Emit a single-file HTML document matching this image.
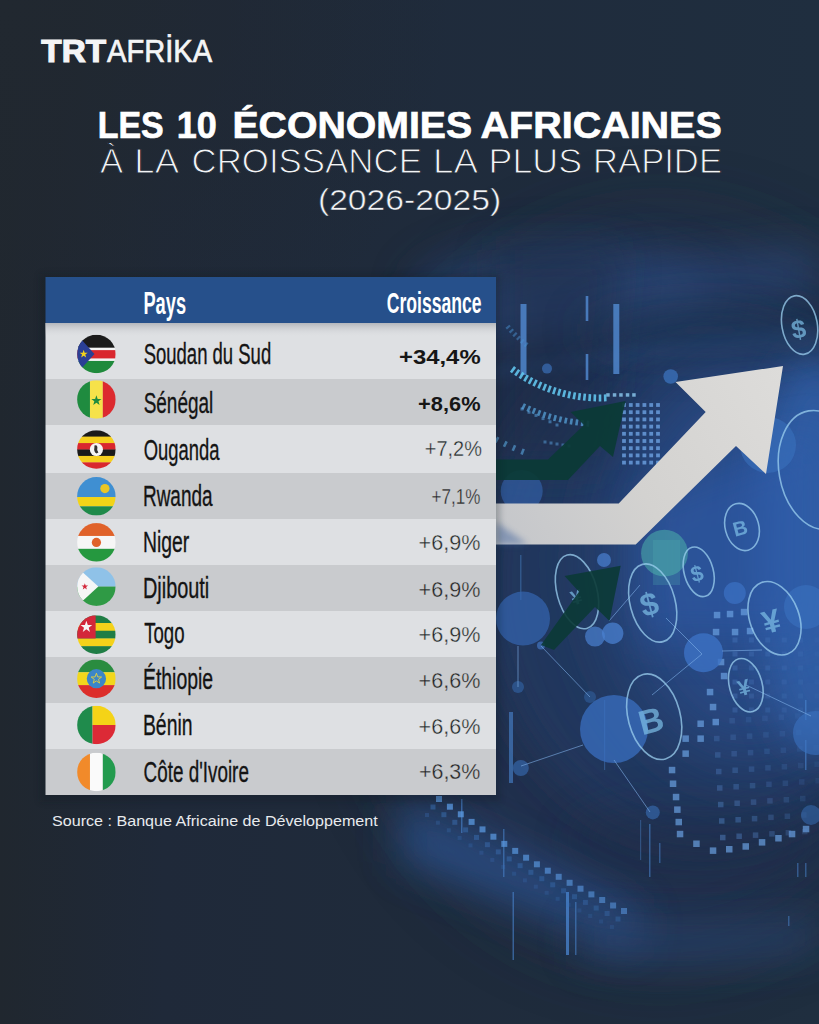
<!DOCTYPE html>
<html><head><meta charset="utf-8"><style>
html,body{margin:0;padding:0;}
body{width:819px;height:1024px;overflow:hidden;position:relative;background:#212830;}
svg{position:absolute;left:0;top:0;display:block;}
text{font-family:"Liberation Sans",sans-serif;}
</style></head><body>
<svg width="819" height="1024" viewBox="0 0 819 1024">
<defs>
<linearGradient id="hshadow" x1="0" y1="0" x2="0" y2="1"><stop offset="0" stop-color="#a9acb2" stop-opacity="0.8"/><stop offset="1" stop-color="#dfe0e3" stop-opacity="0"/></linearGradient>
</defs>
<defs>
<filter id="blur6" filterUnits="userSpaceOnUse" x="-100" y="-100" width="1100" height="1300"><feGaussianBlur stdDeviation="6"/></filter>
<filter id="blur3" filterUnits="userSpaceOnUse" x="-100" y="-100" width="1100" height="1300"><feGaussianBlur stdDeviation="3"/></filter>
<filter id="blur1" filterUnits="userSpaceOnUse" x="-100" y="-100" width="1100" height="1300"><feGaussianBlur stdDeviation="0.7"/></filter>
<filter id="blur20" filterUnits="userSpaceOnUse" x="-100" y="-100" width="1100" height="1300"><feGaussianBlur stdDeviation="20"/></filter>
<filter id="blur40" filterUnits="userSpaceOnUse" x="-100" y="-100" width="1100" height="1300"><feGaussianBlur stdDeviation="40"/></filter>
<linearGradient id="bgbase" x1="0" y1="0" x2="1" y2="0">
<stop offset="0" stop-color="#20272f"/><stop offset="0.2" stop-color="#1f2939"/><stop offset="1" stop-color="#1f2e3f"/></linearGradient>
<radialGradient id="bgtop" gradientUnits="userSpaceOnUse" cx="0" cy="0" r="450">
<stop offset="0" stop-color="#212830" stop-opacity="1"/><stop offset="1" stop-color="#212830" stop-opacity="0"/></radialGradient>
</defs>
<rect width="819" height="1024" fill="url(#bgbase)"/>
<rect width="819" height="1024" fill="url(#bgtop)"/>
<!-- haze -->
<ellipse cx="660" cy="590" rx="300" ry="360" fill="#213352" opacity="0.75" filter="url(#blur40)"/>
<!-- sphere -->
<ellipse cx="705" cy="580" rx="225" ry="260" fill="#22395e" opacity="0.9" filter="url(#blur20)"/>
<ellipse cx="750" cy="560" rx="140" ry="200" fill="#2a4e8c" opacity="0.85" filter="url(#blur40)"/>
<ellipse cx="815" cy="550" rx="60" ry="200" fill="#3262ac" opacity="0.8" filter="url(#blur20)"/>
<ellipse cx="560" cy="290" rx="150" ry="50" fill="#2a4676" opacity="0.5" filter="url(#blur20)"/>
<!-- top streaks -->
<path d="M400,315 Q600,268 819,248 L819,292 Q600,312 400,348 Z" fill="#2d4c80" opacity="0.6" filter="url(#blur20)"/>
<path d="M470,370 Q650,340 819,325 L819,345 Q650,355 470,385 Z" fill="#2d5288" opacity="0.3" filter="url(#blur6)"/>
<path d="M496,250 L620,250 L600,470 L496,470 Z" fill="#1c2a45" opacity="0.5" filter="url(#blur20)"/>
<path d="M640,500 L819,430 L819,640 L640,640 Z" fill="#2f5caa" opacity="0.55" filter="url(#blur20)"/>
<ellipse cx="710" cy="330" rx="130" ry="28" fill="#1f3150" opacity="0.5" filter="url(#blur20)"/>
<!-- dark lower gap -->
<ellipse cx="690" cy="840" rx="120" ry="35" fill="#1f2c44" opacity="0.35" filter="url(#blur20)"/>
<!-- bottom floor glow -->
<path d="M400,800 Q520,850 640,912 L640,950 Q520,905 400,860 Z" fill="#2c5088" opacity="0.85" filter="url(#blur20)"/>
<path d="M580,920 Q700,935 819,920 L819,950 Q700,965 580,955 Z" fill="#2a4676" opacity="0.7" filter="url(#blur20)"/>
<g fill="#4f86cc" opacity="0.85"><rect x="520.5" y="304" width="6" height="71"/><rect x="585.7" y="296" width="2.6" height="25"/><rect x="585.7" y="354" width="2.6" height="26"/><rect x="613.3" y="304" width="6" height="70"/></g>
<rect x="461" y="799" width="1.5" height="34" fill="#4a86d0" opacity="0.6"/>
<rect x="503" y="829" width="1.5" height="48" fill="#4a86d0" opacity="0.55"/>
<rect x="512.5" y="892" width="1.5" height="68" fill="#4a86d0" opacity="0.6"/>
<rect x="566" y="892" width="3" height="63" fill="#4a86d0" opacity="0.75"/>
<rect x="575" y="902" width="1.5" height="53" fill="#4a86d0" opacity="0.55"/>
<rect x="649" y="824" width="1.5" height="53" fill="#4a86d0" opacity="0.55"/>
<rect x="659" y="843" width="1.5" height="20" fill="#4a86d0" opacity="0.5"/>
<rect x="788" y="916" width="1.5" height="10" fill="#4a86d0" opacity="0.5"/>
<rect x="797" y="863" width="1.5" height="14" fill="#4a86d0" opacity="0.5"/>
<rect x="805" y="863" width="1.5" height="14" fill="#4a86d0" opacity="0.5"/>
<rect x="805" y="740" width="1.5" height="30" fill="#4a86d0" opacity="0.6"/>
<rect x="805" y="700" width="1.5" height="20" fill="#4a86d0" opacity="0.6"/>
<rect x="604" y="700" width="1.2" height="70" fill="#4a86d0" opacity="0.4"/>
<rect x="520" y="555" width="1.5" height="45" fill="#4a86d0" opacity="0.4"/>
<rect x="509" y="712" width="4" height="71" fill="#4a86d0" opacity="0.6"/>
<rect x="640" y="820" width="1.2" height="40" fill="#4a86d0" opacity="0.4"/>
<rect x="713.8" y="611.8" width="6.5" height="6.5" fill="#6a9fe0" opacity="0.70"/>
<rect x="712.8" y="628.8" width="6.5" height="6.5" fill="#6a9fe0" opacity="0.70"/>
<rect x="717.8" y="658.8" width="6.5" height="6.5" fill="#6a9fe0" opacity="0.70"/>
<rect x="720.8" y="672.8" width="6.5" height="6.5" fill="#6a9fe0" opacity="0.70"/>
<rect x="706.8" y="688.8" width="6.5" height="6.5" fill="#6a9fe0" opacity="0.70"/>
<rect x="709.8" y="703.8" width="6.5" height="6.5" fill="#6a9fe0" opacity="0.70"/>
<rect x="697.4" y="720.5" width="6.5" height="6.5" fill="#6a9fe0" opacity="0.70"/>
<rect x="712.5" y="718.8" width="6.5" height="6.5" fill="#6a9fe0" opacity="0.70"/>
<rect x="682.4" y="735.4" width="6.5" height="6.5" fill="#6a9fe0" opacity="0.70"/>
<rect x="697.4" y="735.4" width="6.5" height="6.5" fill="#6a9fe0" opacity="0.70"/>
<rect x="682.4" y="750.4" width="6.5" height="6.5" fill="#6a9fe0" opacity="0.70"/>
<rect x="668.8" y="766.8" width="6.5" height="6.5" fill="#6a9fe0" opacity="0.70"/>
<rect x="669.8" y="780.5" width="6.5" height="6.5" fill="#6a9fe0" opacity="0.70"/>
<rect x="672.8" y="793.8" width="6.5" height="6.5" fill="#6a9fe0" opacity="0.70"/>
<rect x="674.1" y="806.4" width="6.5" height="6.5" fill="#6a9fe0" opacity="0.70"/>
<rect x="675.5" y="818.8" width="6.5" height="6.5" fill="#6a9fe0" opacity="0.70"/>
<rect x="676.8" y="830.8" width="6.5" height="6.5" fill="#6a9fe0" opacity="0.70"/>
<rect x="693.2" y="840.5" width="6.5" height="6.5" fill="#6a9fe0" opacity="0.70"/>
<rect x="709.8" y="847.4" width="6.5" height="6.5" fill="#6a9fe0" opacity="0.70"/>
<rect x="726.0" y="846.0" width="6.5" height="6.5" fill="#6a9fe0" opacity="0.70"/>
<rect x="742.5" y="843.2" width="6.5" height="6.5" fill="#6a9fe0" opacity="0.70"/>
<rect x="758.8" y="839.1" width="6.5" height="6.5" fill="#6a9fe0" opacity="0.70"/>
<rect x="775.2" y="835.0" width="6.5" height="6.5" fill="#6a9fe0" opacity="0.70"/>
<rect x="788.8" y="830.8" width="6.5" height="6.5" fill="#6a9fe0" opacity="0.70"/>
<rect x="802.8" y="825.8" width="6.5" height="6.5" fill="#6a9fe0" opacity="0.70"/>
<rect x="726.8" y="610.8" width="6.5" height="6.5" fill="#6a9fe0" opacity="0.70"/>
<rect x="740.8" y="608.8" width="6.5" height="6.5" fill="#6a9fe0" opacity="0.70"/>
<rect x="731.8" y="628.8" width="6.5" height="6.5" fill="#6a9fe0" opacity="0.70"/>
<rect x="746.8" y="627.8" width="6.5" height="6.5" fill="#6a9fe0" opacity="0.70"/>
<rect x="713.0" y="719.2" width="5.5" height="5.5" fill="#5a8fd6" opacity="0.21"/>
<rect x="714.0" y="735.8" width="5.5" height="5.5" fill="#5a8fd6" opacity="0.24"/>
<rect x="715.0" y="752.2" width="5.5" height="5.5" fill="#5a8fd6" opacity="0.27"/>
<rect x="716.0" y="768.8" width="5.5" height="5.5" fill="#5a8fd6" opacity="0.30"/>
<rect x="717.0" y="785.2" width="5.5" height="5.5" fill="#5a8fd6" opacity="0.33"/>
<rect x="718.0" y="801.8" width="5.5" height="5.5" fill="#5a8fd6" opacity="0.36"/>
<rect x="719.0" y="818.2" width="5.5" height="5.5" fill="#5a8fd6" opacity="0.39"/>
<rect x="720.0" y="834.8" width="5.5" height="5.5" fill="#5a8fd6" opacity="0.42"/>
<rect x="729.4" y="718.0" width="5.5" height="5.5" fill="#5a8fd6" opacity="0.19"/>
<rect x="730.4" y="734.5" width="5.5" height="5.5" fill="#5a8fd6" opacity="0.21"/>
<rect x="731.4" y="751.0" width="5.5" height="5.5" fill="#5a8fd6" opacity="0.24"/>
<rect x="732.4" y="767.5" width="5.5" height="5.5" fill="#5a8fd6" opacity="0.27"/>
<rect x="733.4" y="784.0" width="5.5" height="5.5" fill="#5a8fd6" opacity="0.29"/>
<rect x="734.4" y="800.5" width="5.5" height="5.5" fill="#5a8fd6" opacity="0.32"/>
<rect x="735.4" y="817.0" width="5.5" height="5.5" fill="#5a8fd6" opacity="0.35"/>
<rect x="736.4" y="833.5" width="5.5" height="5.5" fill="#5a8fd6" opacity="0.37"/>
<rect x="745.8" y="716.9" width="5.5" height="5.5" fill="#5a8fd6" opacity="0.16"/>
<rect x="746.8" y="733.4" width="5.5" height="5.5" fill="#5a8fd6" opacity="0.19"/>
<rect x="747.8" y="749.9" width="5.5" height="5.5" fill="#5a8fd6" opacity="0.21"/>
<rect x="748.8" y="766.4" width="5.5" height="5.5" fill="#5a8fd6" opacity="0.23"/>
<rect x="749.8" y="782.9" width="5.5" height="5.5" fill="#5a8fd6" opacity="0.26"/>
<rect x="750.8" y="799.4" width="5.5" height="5.5" fill="#5a8fd6" opacity="0.28"/>
<rect x="751.8" y="815.9" width="5.5" height="5.5" fill="#5a8fd6" opacity="0.30"/>
<rect x="752.8" y="832.4" width="5.5" height="5.5" fill="#5a8fd6" opacity="0.33"/>
<rect x="762.2" y="715.6" width="5.5" height="5.5" fill="#5a8fd6" opacity="0.14"/>
<rect x="763.2" y="732.1" width="5.5" height="5.5" fill="#5a8fd6" opacity="0.16"/>
<rect x="764.2" y="748.6" width="5.5" height="5.5" fill="#5a8fd6" opacity="0.18"/>
<rect x="765.2" y="765.1" width="5.5" height="5.5" fill="#5a8fd6" opacity="0.20"/>
<rect x="766.2" y="781.6" width="5.5" height="5.5" fill="#5a8fd6" opacity="0.22"/>
<rect x="767.2" y="798.1" width="5.5" height="5.5" fill="#5a8fd6" opacity="0.24"/>
<rect x="768.2" y="814.6" width="5.5" height="5.5" fill="#5a8fd6" opacity="0.26"/>
<rect x="769.2" y="831.1" width="5.5" height="5.5" fill="#5a8fd6" opacity="0.28"/>
<rect x="778.6" y="714.5" width="5.5" height="5.5" fill="#5a8fd6" opacity="0.12"/>
<rect x="779.6" y="731.0" width="5.5" height="5.5" fill="#5a8fd6" opacity="0.13"/>
<rect x="780.6" y="747.5" width="5.5" height="5.5" fill="#5a8fd6" opacity="0.15"/>
<rect x="781.6" y="764.0" width="5.5" height="5.5" fill="#5a8fd6" opacity="0.17"/>
<rect x="782.6" y="780.5" width="5.5" height="5.5" fill="#5a8fd6" opacity="0.18"/>
<rect x="783.6" y="797.0" width="5.5" height="5.5" fill="#5a8fd6" opacity="0.20"/>
<rect x="784.6" y="813.5" width="5.5" height="5.5" fill="#5a8fd6" opacity="0.22"/>
<rect x="785.6" y="830.0" width="5.5" height="5.5" fill="#5a8fd6" opacity="0.23"/>
<rect x="795.0" y="713.2" width="5.5" height="5.5" fill="#5a8fd6" opacity="0.09"/>
<rect x="796.0" y="729.8" width="5.5" height="5.5" fill="#5a8fd6" opacity="0.11"/>
<rect x="797.0" y="746.2" width="5.5" height="5.5" fill="#5a8fd6" opacity="0.12"/>
<rect x="798.0" y="762.8" width="5.5" height="5.5" fill="#5a8fd6" opacity="0.13"/>
<rect x="799.0" y="779.2" width="5.5" height="5.5" fill="#5a8fd6" opacity="0.15"/>
<rect x="800.0" y="795.8" width="5.5" height="5.5" fill="#5a8fd6" opacity="0.16"/>
<rect x="801.0" y="812.2" width="5.5" height="5.5" fill="#5a8fd6" opacity="0.17"/>
<rect x="802.0" y="828.8" width="5.5" height="5.5" fill="#5a8fd6" opacity="0.19"/>
<rect x="811.4" y="712.0" width="5.5" height="5.5" fill="#5a8fd6" opacity="0.07"/>
<rect x="812.4" y="728.5" width="5.5" height="5.5" fill="#5a8fd6" opacity="0.08"/>
<rect x="813.4" y="745.0" width="5.5" height="5.5" fill="#5a8fd6" opacity="0.09"/>
<rect x="814.4" y="761.5" width="5.5" height="5.5" fill="#5a8fd6" opacity="0.10"/>
<rect x="815.4" y="778.0" width="5.5" height="5.5" fill="#5a8fd6" opacity="0.11"/>
<rect x="732.5" y="637.5" width="5.0" height="5.0" fill="#5a8fd6" opacity="0.25"/>
<rect x="732.5" y="651.5" width="5.0" height="5.0" fill="#5a8fd6" opacity="0.25"/>
<rect x="732.5" y="665.5" width="5.0" height="5.0" fill="#5a8fd6" opacity="0.25"/>
<rect x="732.5" y="679.5" width="5.0" height="5.0" fill="#5a8fd6" opacity="0.25"/>
<rect x="732.5" y="693.5" width="5.0" height="5.0" fill="#5a8fd6" opacity="0.25"/>
<rect x="732.5" y="707.5" width="5.0" height="5.0" fill="#5a8fd6" opacity="0.25"/>
<rect x="748.9" y="637.5" width="5.0" height="5.0" fill="#5a8fd6" opacity="0.21"/>
<rect x="748.9" y="651.5" width="5.0" height="5.0" fill="#5a8fd6" opacity="0.21"/>
<rect x="748.9" y="665.5" width="5.0" height="5.0" fill="#5a8fd6" opacity="0.21"/>
<rect x="748.9" y="679.5" width="5.0" height="5.0" fill="#5a8fd6" opacity="0.21"/>
<rect x="748.9" y="693.5" width="5.0" height="5.0" fill="#5a8fd6" opacity="0.21"/>
<rect x="748.9" y="707.5" width="5.0" height="5.0" fill="#5a8fd6" opacity="0.21"/>
<rect x="765.3" y="637.5" width="5.0" height="5.0" fill="#5a8fd6" opacity="0.18"/>
<rect x="765.3" y="651.5" width="5.0" height="5.0" fill="#5a8fd6" opacity="0.18"/>
<rect x="765.3" y="665.5" width="5.0" height="5.0" fill="#5a8fd6" opacity="0.18"/>
<rect x="765.3" y="679.5" width="5.0" height="5.0" fill="#5a8fd6" opacity="0.18"/>
<rect x="765.3" y="693.5" width="5.0" height="5.0" fill="#5a8fd6" opacity="0.18"/>
<rect x="765.3" y="707.5" width="5.0" height="5.0" fill="#5a8fd6" opacity="0.18"/>
<rect x="781.7" y="637.5" width="5.0" height="5.0" fill="#5a8fd6" opacity="0.14"/>
<rect x="781.7" y="651.5" width="5.0" height="5.0" fill="#5a8fd6" opacity="0.14"/>
<rect x="781.7" y="665.5" width="5.0" height="5.0" fill="#5a8fd6" opacity="0.14"/>
<rect x="781.7" y="679.5" width="5.0" height="5.0" fill="#5a8fd6" opacity="0.14"/>
<rect x="781.7" y="693.5" width="5.0" height="5.0" fill="#5a8fd6" opacity="0.14"/>
<rect x="781.7" y="707.5" width="5.0" height="5.0" fill="#5a8fd6" opacity="0.14"/>
<rect x="798.1" y="637.5" width="5.0" height="5.0" fill="#5a8fd6" opacity="0.11"/>
<rect x="798.1" y="651.5" width="5.0" height="5.0" fill="#5a8fd6" opacity="0.11"/>
<rect x="798.1" y="665.5" width="5.0" height="5.0" fill="#5a8fd6" opacity="0.11"/>
<rect x="798.1" y="679.5" width="5.0" height="5.0" fill="#5a8fd6" opacity="0.11"/>
<rect x="798.1" y="693.5" width="5.0" height="5.0" fill="#5a8fd6" opacity="0.11"/>
<rect x="798.1" y="707.5" width="5.0" height="5.0" fill="#5a8fd6" opacity="0.11"/>
<rect x="814.5" y="637.5" width="5.0" height="5.0" fill="#5a8fd6" opacity="0.07"/>
<rect x="814.5" y="651.5" width="5.0" height="5.0" fill="#5a8fd6" opacity="0.07"/>
<rect x="814.5" y="665.5" width="5.0" height="5.0" fill="#5a8fd6" opacity="0.07"/>
<rect x="814.5" y="679.5" width="5.0" height="5.0" fill="#5a8fd6" opacity="0.07"/>
<rect x="814.5" y="693.5" width="5.0" height="5.0" fill="#5a8fd6" opacity="0.07"/>
<rect x="814.5" y="707.5" width="5.0" height="5.0" fill="#5a8fd6" opacity="0.07"/>
<rect x="622.1" y="403.1" width="3.8" height="3.8" fill="#72a8ea" opacity="0.75"/>
<rect x="628.9" y="403.1" width="3.8" height="3.8" fill="#72a8ea" opacity="0.75"/>
<rect x="635.7" y="403.1" width="3.8" height="3.8" fill="#72a8ea" opacity="0.75"/>
<rect x="642.5" y="403.1" width="3.8" height="3.8" fill="#72a8ea" opacity="0.75"/>
<rect x="649.3" y="403.1" width="3.8" height="3.8" fill="#72a8ea" opacity="0.75"/>
<rect x="656.1" y="403.1" width="3.8" height="3.8" fill="#72a8ea" opacity="0.75"/>
<rect x="622.1" y="410.3" width="3.8" height="3.8" fill="#72a8ea" opacity="0.75"/>
<rect x="628.9" y="410.3" width="3.8" height="3.8" fill="#72a8ea" opacity="0.75"/>
<rect x="635.7" y="410.3" width="3.8" height="3.8" fill="#72a8ea" opacity="0.75"/>
<rect x="642.5" y="410.3" width="3.8" height="3.8" fill="#72a8ea" opacity="0.75"/>
<rect x="649.3" y="410.3" width="3.8" height="3.8" fill="#72a8ea" opacity="0.75"/>
<rect x="656.1" y="410.3" width="3.8" height="3.8" fill="#72a8ea" opacity="0.75"/>
<rect x="622.1" y="417.5" width="3.8" height="3.8" fill="#72a8ea" opacity="0.75"/>
<rect x="628.9" y="417.5" width="3.8" height="3.8" fill="#72a8ea" opacity="0.75"/>
<rect x="635.7" y="417.5" width="3.8" height="3.8" fill="#72a8ea" opacity="0.75"/>
<rect x="642.5" y="417.5" width="3.8" height="3.8" fill="#72a8ea" opacity="0.75"/>
<rect x="649.3" y="417.5" width="3.8" height="3.8" fill="#72a8ea" opacity="0.75"/>
<rect x="656.1" y="417.5" width="3.8" height="3.8" fill="#72a8ea" opacity="0.75"/>
<rect x="622.1" y="424.7" width="3.8" height="3.8" fill="#72a8ea" opacity="0.75"/>
<rect x="628.9" y="424.7" width="3.8" height="3.8" fill="#72a8ea" opacity="0.75"/>
<rect x="635.7" y="424.7" width="3.8" height="3.8" fill="#72a8ea" opacity="0.75"/>
<rect x="642.5" y="424.7" width="3.8" height="3.8" fill="#72a8ea" opacity="0.75"/>
<rect x="649.3" y="424.7" width="3.8" height="3.8" fill="#72a8ea" opacity="0.75"/>
<rect x="656.1" y="424.7" width="3.8" height="3.8" fill="#72a8ea" opacity="0.75"/>
<rect x="622.1" y="431.9" width="3.8" height="3.8" fill="#72a8ea" opacity="0.75"/>
<rect x="628.9" y="431.9" width="3.8" height="3.8" fill="#72a8ea" opacity="0.75"/>
<rect x="635.7" y="431.9" width="3.8" height="3.8" fill="#72a8ea" opacity="0.75"/>
<rect x="642.5" y="431.9" width="3.8" height="3.8" fill="#72a8ea" opacity="0.75"/>
<rect x="649.3" y="431.9" width="3.8" height="3.8" fill="#72a8ea" opacity="0.75"/>
<rect x="656.1" y="431.9" width="3.8" height="3.8" fill="#72a8ea" opacity="0.75"/>
<rect x="622.1" y="439.1" width="3.8" height="3.8" fill="#72a8ea" opacity="0.75"/>
<rect x="628.9" y="439.1" width="3.8" height="3.8" fill="#72a8ea" opacity="0.75"/>
<rect x="635.7" y="439.1" width="3.8" height="3.8" fill="#72a8ea" opacity="0.75"/>
<rect x="642.5" y="439.1" width="3.8" height="3.8" fill="#72a8ea" opacity="0.75"/>
<rect x="649.3" y="439.1" width="3.8" height="3.8" fill="#72a8ea" opacity="0.75"/>
<rect x="656.1" y="439.1" width="3.8" height="3.8" fill="#72a8ea" opacity="0.75"/>
<rect x="622.1" y="446.3" width="3.8" height="3.8" fill="#72a8ea" opacity="0.75"/>
<rect x="628.9" y="446.3" width="3.8" height="3.8" fill="#72a8ea" opacity="0.75"/>
<rect x="635.7" y="446.3" width="3.8" height="3.8" fill="#72a8ea" opacity="0.75"/>
<rect x="642.5" y="446.3" width="3.8" height="3.8" fill="#72a8ea" opacity="0.75"/>
<rect x="649.3" y="446.3" width="3.8" height="3.8" fill="#72a8ea" opacity="0.75"/>
<rect x="656.1" y="446.3" width="3.8" height="3.8" fill="#72a8ea" opacity="0.75"/>
<rect x="622.1" y="453.5" width="3.8" height="3.8" fill="#72a8ea" opacity="0.75"/>
<rect x="628.9" y="453.5" width="3.8" height="3.8" fill="#72a8ea" opacity="0.75"/>
<rect x="635.7" y="453.5" width="3.8" height="3.8" fill="#72a8ea" opacity="0.75"/>
<rect x="642.5" y="453.5" width="3.8" height="3.8" fill="#72a8ea" opacity="0.75"/>
<rect x="649.3" y="453.5" width="3.8" height="3.8" fill="#72a8ea" opacity="0.75"/>
<rect x="656.1" y="453.5" width="3.8" height="3.8" fill="#72a8ea" opacity="0.75"/>
<rect x="622.1" y="460.7" width="3.8" height="3.8" fill="#72a8ea" opacity="0.75"/>
<rect x="628.9" y="460.7" width="3.8" height="3.8" fill="#72a8ea" opacity="0.75"/>
<rect x="635.7" y="460.7" width="3.8" height="3.8" fill="#72a8ea" opacity="0.75"/>
<rect x="642.5" y="460.7" width="3.8" height="3.8" fill="#72a8ea" opacity="0.75"/>
<rect x="649.3" y="460.7" width="3.8" height="3.8" fill="#72a8ea" opacity="0.75"/>
<rect x="656.1" y="460.7" width="3.8" height="3.8" fill="#72a8ea" opacity="0.75"/>
<rect x="606.2" y="393.2" width="3.5" height="3.5" fill="#8ccaf0" opacity="0.80"/>
<rect x="612.8" y="393.2" width="3.5" height="3.5" fill="#8ccaf0" opacity="0.80"/>
<rect x="619.2" y="393.2" width="3.5" height="3.5" fill="#8ccaf0" opacity="0.80"/>
<rect x="625.8" y="393.2" width="3.5" height="3.5" fill="#8ccaf0" opacity="0.80"/>
<rect x="632.2" y="393.2" width="3.5" height="3.5" fill="#8ccaf0" opacity="0.80"/>
<rect x="-3.5" y="-1.3" width="7" height="2.6" fill="#62c4ec" opacity="0.9" transform="translate(513.0,369.7) rotate(126.0)"/>
<rect x="-3.5" y="-1.3" width="7" height="2.6" fill="#62c4ec" opacity="0.9" transform="translate(517.2,372.7) rotate(124.0)"/>
<rect x="-3.5" y="-1.3" width="7" height="2.6" fill="#62c4ec" opacity="0.9" transform="translate(521.6,375.5) rotate(122.0)"/>
<rect x="-3.5" y="-1.3" width="7" height="2.6" fill="#62c4ec" opacity="0.9" transform="translate(526.0,378.2) rotate(120.0)"/>
<rect x="-3.5" y="-1.3" width="7" height="2.6" fill="#62c4ec" opacity="0.9" transform="translate(530.5,380.7) rotate(118.0)"/>
<rect x="-3.5" y="-1.3" width="7" height="2.6" fill="#62c4ec" opacity="0.9" transform="translate(535.1,383.0) rotate(116.0)"/>
<rect x="-3.5" y="-1.3" width="7" height="2.6" fill="#62c4ec" opacity="0.9" transform="translate(539.8,385.2) rotate(114.0)"/>
<rect x="-3.5" y="-1.3" width="7" height="2.6" fill="#62c4ec" opacity="0.9" transform="translate(544.6,387.2) rotate(112.0)"/>
<rect x="-3.5" y="-1.3" width="7" height="2.6" fill="#62c4ec" opacity="0.9" transform="translate(549.4,389.1) rotate(110.0)"/>
<rect x="-3.5" y="-1.3" width="7" height="2.6" fill="#62c4ec" opacity="0.9" transform="translate(554.3,390.8) rotate(108.0)"/>
<rect x="-3.5" y="-1.3" width="7" height="2.6" fill="#62c4ec" opacity="0.9" transform="translate(559.2,392.3) rotate(106.0)"/>
<rect x="-3.5" y="-1.3" width="7" height="2.6" fill="#62c4ec" opacity="0.9" transform="translate(564.2,393.6) rotate(104.0)"/>
<rect x="-3.5" y="-1.3" width="7" height="2.6" fill="#62c4ec" opacity="0.9" transform="translate(569.2,394.8) rotate(102.0)"/>
<rect x="-3.5" y="-1.3" width="7" height="2.6" fill="#62c4ec" opacity="0.9" transform="translate(574.3,395.8) rotate(100.0)"/>
<rect x="-3.5" y="-1.3" width="7" height="2.6" fill="#62c4ec" opacity="0.9" transform="translate(579.4,396.6) rotate(98.0)"/>
<rect x="-3.5" y="-1.3" width="7" height="2.6" fill="#62c4ec" opacity="0.9" transform="translate(584.5,397.2) rotate(96.0)"/>
<rect x="-3.5" y="-1.3" width="7" height="2.6" fill="#62c4ec" opacity="0.9" transform="translate(589.7,397.6) rotate(94.0)"/>
<rect x="-3.5" y="-1.3" width="7" height="2.6" fill="#62c4ec" opacity="0.9" transform="translate(594.8,397.9) rotate(92.0)"/>
<rect x="-3.5" y="-1.3" width="7" height="2.6" fill="#62c4ec" opacity="0.9" transform="translate(600.0,398.0) rotate(90.0)"/>
<rect x="-3.5" y="-1.3" width="7" height="2.6" fill="#62c4ec" opacity="0.9" transform="translate(605.2,397.9) rotate(88.0)"/>
<rect x="-3.0" y="-1.3" width="6" height="2.6" fill="#5aa8e0" opacity="0.7" transform="translate(523.7,406.4) rotate(116.0)"/>
<rect x="-3.0" y="-1.3" width="6" height="2.6" fill="#5aa8e0" opacity="0.7" transform="translate(528.8,408.8) rotate(114.2)"/>
<rect x="-3.0" y="-1.3" width="6" height="2.6" fill="#5aa8e0" opacity="0.7" transform="translate(533.9,410.9) rotate(112.3)"/>
<rect x="-3.0" y="-1.3" width="6" height="2.6" fill="#5aa8e0" opacity="0.7" transform="translate(539.1,413.0) rotate(110.5)"/>
<rect x="-3.0" y="-1.3" width="6" height="2.6" fill="#5aa8e0" opacity="0.7" transform="translate(544.3,414.8) rotate(108.7)"/>
<rect x="-3.0" y="-1.3" width="6" height="2.6" fill="#5aa8e0" opacity="0.7" transform="translate(549.6,416.5) rotate(106.8)"/>
<rect x="-3.0" y="-1.3" width="6" height="2.6" fill="#5aa8e0" opacity="0.7" transform="translate(555.0,418.1) rotate(105.0)"/>
<rect x="-3.0" y="-1.3" width="6" height="2.6" fill="#5aa8e0" opacity="0.7" transform="translate(560.4,419.4) rotate(103.2)"/>
<rect x="-3.0" y="-1.3" width="6" height="2.6" fill="#5aa8e0" opacity="0.7" transform="translate(565.8,420.6) rotate(101.3)"/>
<rect x="-3.0" y="-1.3" width="6" height="2.6" fill="#5aa8e0" opacity="0.7" transform="translate(571.3,421.6) rotate(99.5)"/>
<rect x="-3.0" y="-1.3" width="6" height="2.6" fill="#5aa8e0" opacity="0.7" transform="translate(576.8,422.4) rotate(97.7)"/>
<rect x="-3.0" y="-1.3" width="6" height="2.6" fill="#5aa8e0" opacity="0.7" transform="translate(582.3,423.1) rotate(95.8)"/>
<rect x="-3.0" y="-1.3" width="6" height="2.6" fill="#5aa8e0" opacity="0.7" transform="translate(587.9,423.6) rotate(94.0)"/>
<rect x="-3.0" y="-1.3" width="6" height="2.6" fill="#5aa8e0" opacity="0.6" transform="translate(488.8,435.1) rotate(121.0)"/>
<rect x="-3.0" y="-1.3" width="6" height="2.6" fill="#5aa8e0" opacity="0.6" transform="translate(496.9,439.8) rotate(118.5)"/>
<rect x="-3.0" y="-1.3" width="6" height="2.6" fill="#5aa8e0" opacity="0.6" transform="translate(505.3,444.1) rotate(116.0)"/>
<rect x="-3.0" y="-1.3" width="6" height="2.6" fill="#5aa8e0" opacity="0.6" transform="translate(513.9,448.1) rotate(113.5)"/>
<rect x="-3.0" y="-1.3" width="6" height="2.6" fill="#5aa8e0" opacity="0.6" transform="translate(522.6,451.7) rotate(111.0)"/>
<rect x="-2.5" y="-1.1" width="5" height="2.2" fill="#4a90d0" opacity="0.5" transform="translate(508.1,327.1) rotate(140.0)"/>
<rect x="-2.5" y="-1.1" width="5" height="2.2" fill="#4a90d0" opacity="0.5" transform="translate(511.4,330.9) rotate(137.6)"/>
<rect x="-2.5" y="-1.1" width="5" height="2.2" fill="#4a90d0" opacity="0.5" transform="translate(514.9,334.6) rotate(135.2)"/>
<rect x="-2.5" y="-1.1" width="5" height="2.2" fill="#4a90d0" opacity="0.5" transform="translate(518.5,338.0) rotate(132.8)"/>
<rect x="-2.5" y="-1.1" width="5" height="2.2" fill="#4a90d0" opacity="0.5" transform="translate(522.2,341.4) rotate(130.4)"/>
<rect x="-2.5" y="-1.1" width="5" height="2.2" fill="#4a90d0" opacity="0.5" transform="translate(526.1,344.6) rotate(128.0)"/>
<rect x="-3.0" y="-1.2" width="6" height="2.4" fill="#4a90d0" opacity="0.45" transform="translate(462.1,387.9) rotate(135.0)"/>
<rect x="-3.0" y="-1.2" width="6" height="2.4" fill="#4a90d0" opacity="0.45" transform="translate(468.3,393.8) rotate(132.5)"/>
<rect x="-3.0" y="-1.2" width="6" height="2.4" fill="#4a90d0" opacity="0.45" transform="translate(474.7,399.4) rotate(130.0)"/>
<rect x="-3.0" y="-1.2" width="6" height="2.4" fill="#4a90d0" opacity="0.45" transform="translate(481.3,404.7) rotate(127.5)"/>
<rect x="-3.0" y="-1.2" width="6" height="2.4" fill="#4a90d0" opacity="0.45" transform="translate(488.2,409.7) rotate(125.0)"/>
<rect x="520.5" y="407.5" width="3.0" height="3.0" fill="#5aa0dc" opacity="0.55"/>
<rect x="527.5" y="410.7" width="3.0" height="3.0" fill="#5aa0dc" opacity="0.55"/>
<rect x="534.5" y="413.9" width="3.0" height="3.0" fill="#5aa0dc" opacity="0.55"/>
<rect x="541.5" y="417.1" width="3.0" height="3.0" fill="#5aa0dc" opacity="0.55"/>
<rect x="548.5" y="420.3" width="3.0" height="3.0" fill="#5aa0dc" opacity="0.55"/>
<rect x="555.5" y="423.5" width="3.0" height="3.0" fill="#5aa0dc" opacity="0.55"/>
<rect x="543.5" y="440.5" width="3.0" height="3.0" fill="#5aa0dc" opacity="0.50"/>
<rect x="549.5" y="441.5" width="3.0" height="3.0" fill="#5aa0dc" opacity="0.50"/>
<rect x="555.5" y="442.5" width="3.0" height="3.0" fill="#5aa0dc" opacity="0.50"/>
<rect x="561.5" y="443.5" width="3.0" height="3.0" fill="#5aa0dc" opacity="0.50"/>
<rect x="567.5" y="444.5" width="3.0" height="3.0" fill="#5aa0dc" opacity="0.50"/>
<rect x="436.0" y="796.0" width="6.0" height="6.0" fill="#5a98e0" opacity="0.80"/>
<rect x="430.5" y="804.5" width="5.0" height="5.0" fill="#3e78c0" opacity="0.45"/>
<rect x="425.0" y="813.0" width="4.0" height="4.0" fill="#3a70b8" opacity="0.30"/>
<rect x="446.9" y="803.7" width="6.0" height="6.0" fill="#5a98e0" opacity="0.79"/>
<rect x="441.4" y="812.2" width="5.0" height="5.0" fill="#3e78c0" opacity="0.44"/>
<rect x="435.9" y="820.7" width="4.0" height="4.0" fill="#3a70b8" opacity="0.29"/>
<rect x="457.8" y="811.3" width="6.0" height="6.0" fill="#5a98e0" opacity="0.77"/>
<rect x="452.3" y="819.8" width="5.0" height="5.0" fill="#3e78c0" opacity="0.43"/>
<rect x="446.8" y="828.3" width="4.0" height="4.0" fill="#3a70b8" opacity="0.29"/>
<rect x="468.6" y="818.9" width="6.0" height="6.0" fill="#5a98e0" opacity="0.76"/>
<rect x="463.1" y="827.4" width="5.0" height="5.0" fill="#3e78c0" opacity="0.43"/>
<rect x="457.6" y="835.9" width="4.0" height="4.0" fill="#3a70b8" opacity="0.28"/>
<rect x="479.5" y="826.4" width="6.0" height="6.0" fill="#5a98e0" opacity="0.74"/>
<rect x="474.0" y="834.9" width="5.0" height="5.0" fill="#3e78c0" opacity="0.42"/>
<rect x="468.5" y="843.4" width="4.0" height="4.0" fill="#3a70b8" opacity="0.28"/>
<rect x="490.4" y="833.7" width="6.0" height="6.0" fill="#5a98e0" opacity="0.73"/>
<rect x="484.9" y="842.2" width="5.0" height="5.0" fill="#3e78c0" opacity="0.41"/>
<rect x="479.4" y="850.7" width="4.0" height="4.0" fill="#3a70b8" opacity="0.27"/>
<rect x="501.3" y="840.9" width="6.0" height="6.0" fill="#5a98e0" opacity="0.72"/>
<rect x="495.8" y="849.4" width="5.0" height="5.0" fill="#3e78c0" opacity="0.40"/>
<rect x="490.3" y="857.9" width="4.0" height="4.0" fill="#3a70b8" opacity="0.27"/>
<rect x="512.2" y="847.9" width="6.0" height="6.0" fill="#5a98e0" opacity="0.70"/>
<rect x="506.7" y="856.4" width="5.0" height="5.0" fill="#3e78c0" opacity="0.39"/>
<rect x="501.2" y="864.9" width="4.0" height="4.0" fill="#3a70b8" opacity="0.26"/>
<rect x="523.1" y="854.7" width="6.0" height="6.0" fill="#5a98e0" opacity="0.69"/>
<rect x="517.6" y="863.2" width="5.0" height="5.0" fill="#3e78c0" opacity="0.39"/>
<rect x="512.1" y="871.7" width="4.0" height="4.0" fill="#3a70b8" opacity="0.26"/>
<rect x="533.9" y="861.3" width="6.0" height="6.0" fill="#5a98e0" opacity="0.67"/>
<rect x="528.4" y="869.8" width="5.0" height="5.0" fill="#3e78c0" opacity="0.38"/>
<rect x="522.9" y="878.3" width="4.0" height="4.0" fill="#3a70b8" opacity="0.25"/>
<rect x="544.8" y="867.7" width="6.0" height="6.0" fill="#5a98e0" opacity="0.66"/>
<rect x="539.3" y="876.2" width="5.0" height="5.0" fill="#3e78c0" opacity="0.37"/>
<rect x="533.8" y="884.7" width="4.0" height="4.0" fill="#3a70b8" opacity="0.25"/>
<rect x="555.7" y="873.8" width="6.0" height="6.0" fill="#5a98e0" opacity="0.64"/>
<rect x="550.2" y="882.3" width="5.0" height="5.0" fill="#3e78c0" opacity="0.36"/>
<rect x="544.7" y="890.8" width="4.0" height="4.0" fill="#3a70b8" opacity="0.24"/>
<rect x="566.6" y="879.8" width="6.0" height="6.0" fill="#5a98e0" opacity="0.63"/>
<rect x="561.1" y="888.3" width="5.0" height="5.0" fill="#3e78c0" opacity="0.35"/>
<rect x="555.6" y="896.8" width="4.0" height="4.0" fill="#3a70b8" opacity="0.24"/>
<rect x="577.5" y="885.7" width="6.0" height="6.0" fill="#5a98e0" opacity="0.62"/>
<rect x="572.0" y="894.2" width="5.0" height="5.0" fill="#3e78c0" opacity="0.35"/>
<rect x="566.5" y="902.7" width="4.0" height="4.0" fill="#3a70b8" opacity="0.23"/>
<rect x="588.4" y="891.4" width="6.0" height="6.0" fill="#5a98e0" opacity="0.60"/>
<rect x="582.9" y="899.9" width="5.0" height="5.0" fill="#3e78c0" opacity="0.34"/>
<rect x="577.4" y="908.4" width="4.0" height="4.0" fill="#3a70b8" opacity="0.23"/>
<rect x="599.2" y="897.0" width="6.0" height="6.0" fill="#5a98e0" opacity="0.59"/>
<rect x="593.7" y="905.5" width="5.0" height="5.0" fill="#3e78c0" opacity="0.33"/>
<rect x="588.2" y="914.0" width="4.0" height="4.0" fill="#3a70b8" opacity="0.22"/>
<rect x="610.1" y="902.5" width="6.0" height="6.0" fill="#5a98e0" opacity="0.57"/>
<rect x="604.6" y="911.0" width="5.0" height="5.0" fill="#3e78c0" opacity="0.32"/>
<rect x="599.1" y="919.5" width="4.0" height="4.0" fill="#3a70b8" opacity="0.22"/>
<rect x="621.0" y="908.0" width="6.0" height="6.0" fill="#5a98e0" opacity="0.56"/>
<rect x="615.5" y="916.5" width="5.0" height="5.0" fill="#3e78c0" opacity="0.32"/>
<rect x="610.0" y="925.0" width="4.0" height="4.0" fill="#3a70b8" opacity="0.21"/>
<circle cx="614" cy="729" r="34" fill="#3a6fc0" opacity="0.75"/>
<circle cx="703.5" cy="652.8" r="19.5" fill="#3c72c4" opacity="0.8"/>
<circle cx="734.8" cy="593" r="11" fill="#3c72c4" opacity="0.7"/>
<circle cx="523" cy="618.6" r="27" fill="#3565b0" opacity="0.7"/>
<circle cx="521.7" cy="491" r="21" fill="#3565b0" opacity="0.6"/>
<circle cx="604" cy="560" r="7" fill="#4a80d0" opacity="0.7"/>
<circle cx="612.7" cy="633.3" r="10.7" fill="#4a80d0" opacity="0.75"/>
<circle cx="595" cy="636.6" r="10" fill="#4a80d0" opacity="0.7"/>
<circle cx="768" cy="445" r="28" fill="#3a72c0" opacity="0.55"/>
<circle cx="806" cy="607" r="22" fill="#3a72c0" opacity="0.6"/>
<circle cx="815" cy="733" r="22" fill="#3a72c0" opacity="0.6"/>
<circle cx="652.8" cy="812.4" r="7" fill="#3465a8" opacity="0.7"/>
<circle cx="811" cy="815" r="10" fill="#3465a8" opacity="0.6"/>
<circle cx="670.7" cy="376.5" r="7.3" fill="#3a6fb8" opacity="0.8"/>
<circle cx="547" cy="368.6" r="5" fill="#3a6fb8" opacity="0.7"/>
<circle cx="541" cy="645.6" r="4" fill="#4a80d0" opacity="0.6"/>
<circle cx="518" cy="687" r="6" fill="#3465a8" opacity="0.6"/>
<circle cx="520.8" cy="768" r="8" fill="#3465a8" opacity="0.7"/>
<circle cx="590" cy="697" r="6" fill="#3465a8" opacity="0.5"/>
<circle cx="664.5" cy="553.2" r="23.4" fill="#4aa8a8" opacity="0.6"/>
<rect x="653" y="540" width="27" height="45" fill="#4fb0b0" opacity="0.25"/>
<g stroke="#7fb0e8" stroke-width="1" opacity="0.6" fill="none"><line x1="702" y1="654" x2="652" y2="695"/><line x1="702" y1="654" x2="666" y2="618"/><line x1="722" y1="651" x2="762" y2="650"/><line x1="746" y1="685" x2="811" y2="716"/><line x1="541" y1="646" x2="590" y2="697"/><line x1="609" y1="621" x2="640" y2="585"/><line x1="614" y1="760" x2="650" y2="812"/><line x1="583" y1="745" x2="521" y2="766"/><line x1="518" y1="646" x2="518" y2="687"/></g>
<ellipse cx="0" cy="0" rx="22.5" ry="40" fill="none" stroke="#9cd0f0" stroke-width="1.6" opacity="0.75" transform="translate(652.7,603) rotate(-15)"/>
<ellipse cx="0" cy="0" rx="24.6" ry="38" fill="none" stroke="#9cd0f0" stroke-width="1.6" opacity="0.75" transform="translate(774.5,618.3) rotate(-20)"/>
<ellipse cx="0" cy="0" rx="16.4" ry="27.3" fill="none" stroke="#9cd0f0" stroke-width="1.6" opacity="0.75" transform="translate(745.8,685.2) rotate(-15)"/>
<ellipse cx="0" cy="0" rx="26" ry="43.7" fill="none" stroke="#9cd0f0" stroke-width="1.6" opacity="0.75" transform="translate(654.2,716.7) rotate(-15)"/>
<ellipse cx="0" cy="0" rx="20" ry="38" fill="none" stroke="#9cd0f0" stroke-width="1.6" opacity="0.75" transform="translate(577,591.7) rotate(-15)"/>
<ellipse cx="0" cy="0" rx="17.7" ry="29.6" fill="none" stroke="#9cd0f0" stroke-width="1.6" opacity="0.75" transform="translate(799.6,325) rotate(-10)"/>
<ellipse cx="0" cy="0" rx="40" ry="60" fill="none" stroke="#9cd0f0" stroke-width="1.6" opacity="0.75" transform="translate(819,470) rotate(-10)"/>
<ellipse cx="0" cy="0" rx="14.6" ry="25.4" fill="none" stroke="#9cd0f0" stroke-width="1.6" opacity="0.75" transform="translate(698.7,571.8) rotate(-15)"/>
<ellipse cx="0" cy="0" rx="16.8" ry="24" fill="none" stroke="#9cd0f0" stroke-width="1.6" opacity="0.75" transform="translate(742,527) rotate(-15)"/>
<text x="0" y="0" font-size="32" font-weight="bold" fill="#7ec0e8" opacity="0.7" text-anchor="middle" transform="translate(652,615) rotate(-15)">$</text>
<text x="0" y="0" font-size="32" font-weight="bold" fill="#7ec0e8" opacity="0.7" text-anchor="middle" transform="translate(774,632) rotate(-15)">¥</text>
<text x="0" y="0" font-size="22" font-weight="bold" fill="#7ec0e8" opacity="0.7" text-anchor="middle" transform="translate(746,695) rotate(-15)">¥</text>
<text x="0" y="0" font-size="34" font-weight="bold" fill="#7ec0e8" opacity="0.7" text-anchor="middle" transform="translate(654,732) rotate(-15)">B</text>
<text x="0" y="0" font-size="26" font-weight="bold" fill="#7ec0e8" opacity="0.7" text-anchor="middle" transform="translate(800,338) rotate(-10)">$</text>
<text x="0" y="0" font-size="20" font-weight="bold" fill="#7ec0e8" opacity="0.7" text-anchor="middle" transform="translate(578,604) rotate(-15)">¥</text>
<text x="0" y="0" font-size="22" font-weight="bold" fill="#7ec0e8" opacity="0.7" text-anchor="middle" transform="translate(699,581) rotate(-15)">$</text>
<text x="0" y="0" font-size="20" font-weight="bold" fill="#7ec0e8" opacity="0.7" text-anchor="middle" transform="translate(742,535) rotate(-15)">B</text>
<polygon points="625.5,401 570.7,412 584,425 548,459.5 496,459.5 496,480 568,480 600,446 613,457" fill="#0b3a36" opacity="0.93"/>
<polygon points="620.7,565.8 564.5,576 579,591.7 541,645 554,650 595,607 609.5,621" fill="#0b3a36" opacity="0.9"/>
<linearGradient id="arrowg" gradientUnits="userSpaceOnUse" x1="496" y1="540" x2="783" y2="370"><stop offset="0" stop-color="#c4c6ca"/><stop offset="0.45" stop-color="#d3d2d0"/><stop offset="1" stop-color="#dddcda"/></linearGradient>
<polygon points="783,366 675.5,382 705.7,412 618.7,503.5 480,503.5 480,544.5 635.7,544.5 736,446 766,474" fill="url(#arrowg)"/>
<polygon points="496,522 528,544.5 496,544.5" fill="#3a5f9a" opacity="0.45" filter="url(#blur3)"/>
<rect x="40" y="274" width="460" height="528" fill="#10161f" opacity="0.25" filter="url(#blur3)"/>
<rect x="45.5" y="277" width="450.5" height="46" fill="#26508b"/>
<rect x="45.5" y="323" width="450.5" height="56.00" fill="#dee0e3"/>
<rect x="45.5" y="379" width="450.5" height="46.00" fill="#c9cbce"/>
<rect x="45.5" y="425" width="450.5" height="48.00" fill="#dee0e3"/>
<rect x="45.5" y="473" width="450.5" height="46.00" fill="#c9cbce"/>
<rect x="45.5" y="519" width="450.5" height="46.00" fill="#dee0e3"/>
<rect x="45.5" y="565" width="450.5" height="46.00" fill="#c9cbce"/>
<rect x="45.5" y="611" width="450.5" height="46.00" fill="#dee0e3"/>
<rect x="45.5" y="657" width="450.5" height="46.00" fill="#c9cbce"/>
<rect x="45.5" y="703" width="450.5" height="46.00" fill="#dee0e3"/>
<rect x="45.5" y="749" width="450.5" height="46.00" fill="#c9cbce"/>
<rect x="45.5" y="323" width="450.5" height="14" fill="url(#hshadow)"/>
<g transform="translate(96.4,354)"><clipPath id="fc0"><circle cx="0" cy="0" r="19.3"/></clipPath><g clip-path="url(#fc0)"><rect x="-19.30" y="-19.30" width="38.60" height="13.12" fill="#1b1b1b"/><rect x="-19.30" y="-6.18" width="38.60" height="2.32" fill="#f4f4f4"/><rect x="-19.30" y="-3.86" width="38.60" height="8.49" fill="#d9272e"/><rect x="-19.30" y="4.63" width="38.60" height="2.32" fill="#f4f4f4"/><rect x="-19.30" y="6.95" width="38.60" height="12.35" fill="#1f8a3c"/><polygon points="-19.3,-19.3 -1.9299999999999997,0 -19.3,19.3" fill="#2a3f95"/><polygon points="-12.74,-4.25 -11.74,-1.37 -8.70,-1.31 -11.12,0.52 -10.24,3.44 -12.74,1.70 -15.23,3.44 -14.35,0.52 -16.78,-1.31 -13.74,-1.37" fill="#f2d21b"/></g></g>
<g transform="translate(96.4,399.5)"><clipPath id="fc1"><circle cx="0" cy="0" r="19.3"/></clipPath><g clip-path="url(#fc1)"><rect x="-19.30" y="-19.30" width="12.87" height="38.60" fill="#1f8b3f"/><rect x="-6.43" y="-19.30" width="12.87" height="38.60" fill="#f6e24a"/><rect x="6.43" y="-19.30" width="12.87" height="38.60" fill="#dc2a2f"/><polygon points="0.00,-4.25 1.27,-0.59 5.14,-0.51 2.06,1.83 3.18,5.53 0.00,3.32 -3.18,5.53 -2.06,1.83 -5.14,-0.51 -1.27,-0.59" fill="#1f8b3f"/></g></g>
<g transform="translate(96.4,449.5)"><clipPath id="fc2"><circle cx="0" cy="0" r="19.3"/></clipPath><g clip-path="url(#fc2)"><rect x="-19.30" y="-19.30" width="38.60" height="6.73" fill="#1a1a1a"/><rect x="-19.30" y="-12.87" width="38.60" height="6.73" fill="#f5cf1f"/><rect x="-19.30" y="-6.43" width="38.60" height="6.73" fill="#d9272e"/><rect x="-19.30" y="0.00" width="38.60" height="6.73" fill="#1a1a1a"/><rect x="-19.30" y="6.43" width="38.60" height="6.73" fill="#f5cf1f"/><rect x="-19.30" y="12.87" width="38.60" height="6.73" fill="#d9272e"/><circle cx="0" cy="0" r="6.56" fill="#f4f4f4"/><path d="M-2,-4 q3,-1 3,2 q-1,3 1,5 l-2,1 q-3,-2 -2,-6z" fill="#333"/></g></g>
<g transform="translate(96.4,496.3)"><clipPath id="fc3"><circle cx="0" cy="0" r="19.3"/></clipPath><g clip-path="url(#fc3)"><rect x="-19.30" y="-19.30" width="38.60" height="20.07" fill="#3f8fd2"/><rect x="-19.30" y="0.77" width="38.60" height="9.26" fill="#f2d417"/><rect x="-19.30" y="10.04" width="38.60" height="9.26" fill="#1f8a4a"/><circle cx="8.49" cy="-7.72" r="4.63" fill="#e9c626"/></g></g>
<g transform="translate(96.4,542.4)"><clipPath id="fc4"><circle cx="0" cy="0" r="19.3"/></clipPath><g clip-path="url(#fc4)"><rect x="-19.30" y="-19.30" width="38.60" height="12.87" fill="#e0622a"/><rect x="-19.30" y="-6.43" width="38.60" height="12.87" fill="#f6f6f6"/><rect x="-19.30" y="6.43" width="38.60" height="12.87" fill="#25983f"/><circle cx="0" cy="0" r="4.63" fill="#e0622a"/></g></g>
<g transform="translate(96.4,586.6)"><clipPath id="fc5"><circle cx="0" cy="0" r="19.3"/></clipPath><g clip-path="url(#fc5)"><rect x="-19.30" y="-19.30" width="38.60" height="19.30" fill="#8fc2e8"/><rect x="-19.30" y="0.00" width="38.60" height="19.30" fill="#2f9a45"/><polygon points="-19.3,-19.3 1.9300000000000033,0 -19.3,19.3" fill="#f6f6f6"/><polygon points="-11.58,-3.47 -10.76,-1.12 -8.28,-1.07 -10.26,0.43 -9.54,2.81 -11.58,1.39 -13.62,2.81 -12.90,0.43 -14.88,-1.07 -12.40,-1.12" fill="#d3273a"/></g></g>
<g transform="translate(96.4,634.6)"><clipPath id="fc6"><circle cx="0" cy="0" r="19.3"/></clipPath><g clip-path="url(#fc6)"><rect x="-19.30" y="-19.30" width="38.60" height="8.02" fill="#1f7d45"/><rect x="-19.30" y="-11.58" width="38.60" height="8.02" fill="#f4d21a"/><rect x="-19.30" y="-3.86" width="38.60" height="8.02" fill="#1f7d45"/><rect x="-19.30" y="3.86" width="38.60" height="8.02" fill="#f4d21a"/><rect x="-19.30" y="11.58" width="38.60" height="8.02" fill="#1f7d45"/><rect x="-19.30" y="-19.30" width="18.53" height="23.16" fill="#d3273a"/><polygon points="-10.04,-13.90 -8.58,-9.72 -4.16,-9.63 -7.69,-6.96 -6.41,-2.72 -10.04,-5.25 -13.67,-2.72 -12.39,-6.96 -15.91,-9.63 -11.49,-9.72" fill="#f6f6f6"/></g></g>
<g transform="translate(96.4,678.7)"><clipPath id="fc7"><circle cx="0" cy="0" r="19.3"/></clipPath><g clip-path="url(#fc7)"><rect x="-19.30" y="-19.30" width="38.60" height="12.87" fill="#2a8c3f"/><rect x="-19.30" y="-6.43" width="38.60" height="12.87" fill="#f2d71c"/><rect x="-19.30" y="6.43" width="38.60" height="12.87" fill="#dc2e2a"/><circle cx="0" cy="0" r="9.65" fill="#3b86c8"/><polygon points="0.00,-6.18 1.45,-2.00 5.87,-1.91 2.35,0.76 3.63,5.00 0.00,2.47 -3.63,5.00 -2.35,0.76 -5.87,-1.91 -1.45,-2.00" fill="none"/><polygon points="0,-5.5 1.3,-1.8 5.2,-1.7 2.1,0.7 3.2,4.4 0,2.2 -3.2,4.4 -2.1,0.7 -5.2,-1.7 -1.3,-1.8" fill="none" stroke="#e8d23a" stroke-width="0.9"/></g></g>
<g transform="translate(96.4,725)"><clipPath id="fc8"><circle cx="0" cy="0" r="19.3"/></clipPath><g clip-path="url(#fc8)"><rect x="-19.30" y="-19.30" width="15.44" height="38.60" fill="#1f8b4c"/><rect x="-3.86" y="-19.30" width="23.16" height="19.30" fill="#f4d317"/><rect x="-3.86" y="0.00" width="23.16" height="19.30" fill="#dc2a36"/></g></g>
<g transform="translate(96.4,772)"><clipPath id="fc9"><circle cx="0" cy="0" r="19.3"/></clipPath><g clip-path="url(#fc9)"><rect x="-19.30" y="-19.30" width="12.87" height="38.60" fill="#f18a2a"/><rect x="-6.43" y="-19.30" width="12.87" height="38.60" fill="#fafafa"/><rect x="6.43" y="-19.30" width="12.87" height="38.60" fill="#239b4e"/></g></g>
<text x="41.37" y="62.00" font-size="31.88" font-weight="bold" fill="#f4f5f6" textLength="64.63" lengthAdjust="spacingAndGlyphs" stroke="#f4f5f6" stroke-width="1.2">TRT</text>
<text x="107.00" y="62.00" font-size="31.88" font-weight="normal" fill="#f4f5f6" textLength="105.06" lengthAdjust="spacingAndGlyphs" stroke="#f4f5f6" stroke-width="0.7">AFRİKA</text>
<text x="97.69" y="137.70" font-size="37.25" font-weight="bold" fill="#ffffff" textLength="65.99" lengthAdjust="spacingAndGlyphs" stroke="#ffffff" stroke-width="0.7">LES</text>
<text x="176.84" y="137.70" font-size="37.25" font-weight="bold" fill="#ffffff" textLength="39.98" lengthAdjust="spacingAndGlyphs" stroke="#ffffff" stroke-width="0.7">10</text>
<text x="232.45" y="137.70" font-size="37.25" font-weight="bold" fill="#ffffff" textLength="239.70" lengthAdjust="spacingAndGlyphs" stroke="#ffffff" stroke-width="0.7">ÉCONOMIES</text>
<text x="480.61" y="137.70" font-size="37.25" font-weight="bold" fill="#ffffff" textLength="241.13" lengthAdjust="spacingAndGlyphs" stroke="#ffffff" stroke-width="0.7">AFRICAINES</text>
<text x="99.90" y="173.00" font-size="34.78" font-weight="normal" fill="#f2f4f6" textLength="23.17" lengthAdjust="spacingAndGlyphs" stroke="#212a36" stroke-width="1.0">À</text>
<text x="134.37" y="173.00" font-size="34.78" font-weight="normal" fill="#f2f4f6" textLength="44.74" lengthAdjust="spacingAndGlyphs" stroke="#212a36" stroke-width="1.0">LA</text>
<text x="191.56" y="173.00" font-size="34.78" font-weight="normal" fill="#f2f4f6" textLength="230.32" lengthAdjust="spacingAndGlyphs" stroke="#212a36" stroke-width="1.0">CROISSANCE</text>
<text x="433.05" y="173.00" font-size="34.78" font-weight="normal" fill="#f2f4f6" textLength="45.07" lengthAdjust="spacingAndGlyphs" stroke="#212a36" stroke-width="1.0">LA</text>
<text x="488.53" y="173.00" font-size="34.78" font-weight="normal" fill="#f2f4f6" textLength="93.56" lengthAdjust="spacingAndGlyphs" stroke="#212a36" stroke-width="1.0">PLUS</text>
<text x="593.03" y="173.00" font-size="34.78" font-weight="normal" fill="#f2f4f6" textLength="128.97" lengthAdjust="spacingAndGlyphs" stroke="#212a36" stroke-width="1.0">RAPIDE</text>
<text x="317.98" y="210.00" font-size="28.99" font-weight="normal" fill="#f2f4f6" textLength="183.15" lengthAdjust="spacingAndGlyphs" stroke="#202a38" stroke-width="0.5">(2026-2025)</text>
<text x="143.41" y="313.60" font-size="30.43" font-weight="bold" fill="#ffffff" textLength="42.63" lengthAdjust="spacingAndGlyphs">Pays</text>
<text x="386.80" y="313.30" font-size="28.99" font-weight="bold" fill="#ffffff" textLength="94.76" lengthAdjust="spacingAndGlyphs">Croissance</text>
<text x="143.67" y="364.00" font-size="29.71" font-weight="normal" fill="#141414" textLength="127.54" lengthAdjust="spacingAndGlyphs" stroke="#141414" stroke-width="0.35">Soudan du Sud</text>
<text x="143.65" y="413.00" font-size="29.71" font-weight="normal" fill="#141414" textLength="69.59" lengthAdjust="spacingAndGlyphs" stroke="#141414" stroke-width="0.35">Sénégal</text>
<text x="143.67" y="460.20" font-size="29.71" font-weight="normal" fill="#141414" textLength="75.83" lengthAdjust="spacingAndGlyphs" stroke="#141414" stroke-width="0.35">Ouganda</text>
<text x="142.98" y="506.20" font-size="29.71" font-weight="normal" fill="#141414" textLength="69.60" lengthAdjust="spacingAndGlyphs" stroke="#141414" stroke-width="0.35">Rwanda</text>
<text x="142.95" y="551.70" font-size="29.71" font-weight="normal" fill="#141414" textLength="46.23" lengthAdjust="spacingAndGlyphs" stroke="#141414" stroke-width="0.35">Niger</text>
<text x="142.91" y="597.50" font-size="29.71" font-weight="normal" fill="#141414" textLength="66.39" lengthAdjust="spacingAndGlyphs" stroke="#141414" stroke-width="0.35">Djibouti</text>
<text x="144.13" y="643.20" font-size="29.71" font-weight="normal" fill="#141414" textLength="40.38" lengthAdjust="spacingAndGlyphs" stroke="#141414" stroke-width="0.35">Togo</text>
<text x="142.95" y="689.00" font-size="29.71" font-weight="normal" fill="#141414" textLength="70.21" lengthAdjust="spacingAndGlyphs" stroke="#141414" stroke-width="0.35">Éthiopie</text>
<text x="142.95" y="735.30" font-size="29.71" font-weight="normal" fill="#141414" textLength="49.56" lengthAdjust="spacingAndGlyphs" stroke="#141414" stroke-width="0.35">Bénin</text>
<text x="143.56" y="781.50" font-size="29.71" font-weight="normal" fill="#141414" textLength="105.34" lengthAdjust="spacingAndGlyphs" stroke="#141414" stroke-width="0.35">Côte d&#39;Ivoire</text>
<text x="399.05" y="364.00" font-size="21.01" font-weight="bold" fill="#161616" textLength="81.54" lengthAdjust="spacingAndGlyphs">+34,4%</text>
<text x="418.13" y="411.00" font-size="21.01" font-weight="bold" fill="#161616" textLength="62.38" lengthAdjust="spacingAndGlyphs">+8,6%</text>
<text x="424.80" y="456.40" font-size="21.45" font-weight="normal" fill="#262626" textLength="57.16" lengthAdjust="spacingAndGlyphs" stroke="#dee0e3" stroke-width="0.35">+7,2%</text>
<text x="431.55" y="503.60" font-size="21.45" font-weight="normal" fill="#262626" textLength="48.72" lengthAdjust="spacingAndGlyphs" stroke="#c9cbce" stroke-width="0.35">+7,1%</text>
<text x="418.52" y="549.70" font-size="21.45" font-weight="normal" fill="#262626" textLength="61.90" lengthAdjust="spacingAndGlyphs" stroke="#dee0e3" stroke-width="0.35">+6,9%</text>
<text x="418.52" y="597.00" font-size="21.45" font-weight="normal" fill="#262626" textLength="61.90" lengthAdjust="spacingAndGlyphs" stroke="#c9cbce" stroke-width="0.35">+6,9%</text>
<text x="418.52" y="642.40" font-size="21.45" font-weight="normal" fill="#262626" textLength="61.90" lengthAdjust="spacingAndGlyphs" stroke="#dee0e3" stroke-width="0.35">+6,9%</text>
<text x="418.52" y="687.50" font-size="21.45" font-weight="normal" fill="#262626" textLength="61.90" lengthAdjust="spacingAndGlyphs" stroke="#c9cbce" stroke-width="0.35">+6,6%</text>
<text x="418.52" y="733.50" font-size="21.45" font-weight="normal" fill="#262626" textLength="61.90" lengthAdjust="spacingAndGlyphs" stroke="#dee0e3" stroke-width="0.35">+6,6%</text>
<text x="418.93" y="779.00" font-size="21.45" font-weight="normal" fill="#262626" textLength="61.49" lengthAdjust="spacingAndGlyphs" stroke="#c9cbce" stroke-width="0.35">+6,3%</text>
<text x="52.08" y="825.60" font-size="15.36" font-weight="normal" fill="#e8ebee" textLength="325.62" lengthAdjust="spacingAndGlyphs">Source : Banque Africaine de Développement</text>
</svg>
</body></html>
